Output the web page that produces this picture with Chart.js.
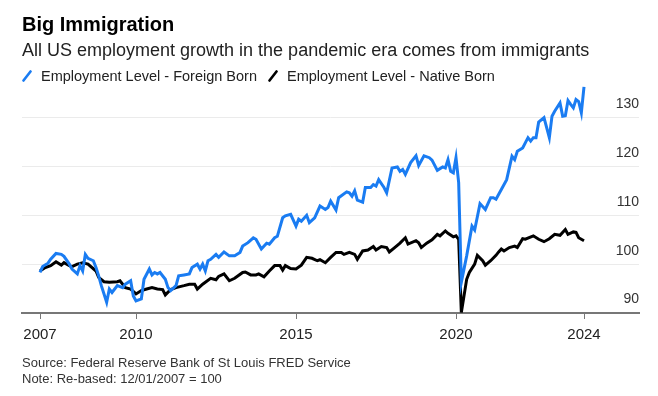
<!DOCTYPE html>
<html>
<head>
<meta charset="utf-8">
<title>Big Immigration</title>
<script src="https://cdn.jsdelivr.net/npm/chart.js@4.4.1/dist/chart.umd.min.js"></script>
<style>
  html, body { margin: 0; padding: 0; background: #fff; }
  body { width: 658px; height: 396px; position: relative; overflow: hidden;
         font-family: 'Liberation Sans', Arial, sans-serif; }
  .chart-wrap { position: absolute; left: 0; top: 0; width: 658px; height: 396px; }
  .title { position: absolute; left: 22px; top: 14px; font-size: 20px; line-height: 20px;
           font-weight: bold; color: #000; white-space: nowrap; }
  .subtitle { position: absolute; left: 22px; top: 40.5px; font-size: 18px; line-height: 18px;
              color: #222; white-space: nowrap; }
  .legend { position: absolute; left: 22px; top: 68.7px; font-size: 14.5px; line-height: 14.5px;
            color: #222; white-space: nowrap; display: flex; }
  .legend-item { display: flex; align-items: center; }
  .legend-item + .legend-item { margin-left: 11px; }
  .legend-item svg { margin-right: 9px; }
  .footer { position: absolute; left: 22px; top: 355px; font-size: 13px; line-height: 16px;
            color: #333; white-space: nowrap; }
</style>
</head>
<body>
<div class="chart-wrap"><canvas id="immigrationChart"></canvas></div>
<div class="title">Big Immigration</div>
<div class="subtitle">All US employment growth in the pandemic era comes from immigrants</div>
<div class="legend" id="legend"></div>
<div class="footer">Source: Federal Reserve Bank of St Louis FRED Service<br>Note: Re-based: 12/01/2007 = 100</div>

<script>
// ============================================
// Data (re-based, 12/01/2007 = 100)
// ============================================

const foreignDates = [
  '2007-01', '2007-02', '2007-04', '2007-05', '2007-07', '2007-09', '2007-10', '2007-12',
  '2008-01', '2008-03', '2008-04', '2008-05', '2008-06', '2008-07', '2008-09', '2008-10', '2008-11', '2008-12',
  '2009-02', '2009-03', '2009-04', '2009-06', '2009-08', '2009-09', '2009-11', '2009-12',
  '2010-01', '2010-03', '2010-04', '2010-06', '2010-07', '2010-08', '2010-09', '2010-10', '2010-12',
  '2011-01', '2011-02', '2011-04', '2011-05', '2011-07', '2011-09', '2011-10', '2011-12',
  '2012-01', '2012-02', '2012-03', '2012-04', '2012-05', '2012-07', '2012-08', '2012-10', '2012-12',
  '2013-02', '2013-04', '2013-05', '2013-07', '2013-09', '2013-10', '2013-12',
  '2014-02', '2014-03', '2014-05', '2014-06', '2014-08', '2014-09', '2014-11',
  '2015-01', '2015-02', '2015-03', '2015-05', '2015-06', '2015-08', '2015-10', '2015-12',
  '2016-01', '2016-02', '2016-04', '2016-05', '2016-08', '2016-09', '2016-10', '2016-11', '2016-12',
  '2017-02', '2017-03', '2017-05', '2017-06', '2017-07', '2017-08', '2017-10', '2017-11',
  '2018-01', '2018-03', '2018-04', '2018-05', '2018-06', '2018-08', '2018-10', '2018-11',
  '2019-01', '2019-03', '2019-04', '2019-06', '2019-08', '2019-09', '2019-10', '2019-11', '2019-12',
  '2020-01', '2020-02', '2020-03', '2020-05', '2020-07', '2020-08', '2020-10', '2020-12',
  '2021-02', '2021-03', '2021-04', '2021-06', '2021-08', '2021-10', '2021-11', '2021-12',
  '2022-02', '2022-04', '2022-05', '2022-06', '2022-07', '2022-08', '2022-10', '2022-12',
  '2023-01', '2023-02', '2023-04', '2023-05', '2023-06', '2023-07', '2023-08', '2023-09', '2023-10', '2023-11', '2023-12',
  '2024-01'
];
const foreignValues = [
  98.3, 99.5, 100.2, 101.0, 102.2, 102.0, 101.6, 100.0,
  99.0, 98.0, 99.7, 98.6, 102.0, 101.2, 100.7, 99.3, 97.6, 95.6,
  92.2, 94.9, 94.2, 95.6, 95.2, 95.9, 96.6, 93.5,
  92.5, 92.9, 96.9, 99.0, 97.8, 98.3, 98.0, 98.3, 96.9,
  95.2, 94.6, 95.6, 97.6, 97.8, 98.0, 99.3, 100.0,
  99.0, 100.0, 98.6, 100.7, 101.0, 102.0, 101.4, 102.5, 101.7,
  101.7, 102.4, 103.7, 104.4, 105.4, 105.1, 103.1,
  104.3, 104.1, 105.4, 105.7, 109.5, 109.9, 110.2,
  107.8, 109.2, 108.8, 110.0, 108.5, 109.5, 111.9, 111.2,
  111.6, 112.9, 111.1, 113.6, 114.8, 114.6, 113.9, 115.0, 113.1,
  112.7, 115.7, 115.7, 116.3, 116.0, 117.3, 115.7, 114.6,
  119.7, 119.9, 119.0, 119.4, 118.4, 120.8, 122.2, 120.2,
  122.2, 121.8, 121.3, 119.2, 119.9, 119.7, 121.4, 119.0, 118.7,
  121.8, 116.7, 96.3, 101.7, 107.8, 107.0, 112.4, 111.2,
  113.6, 113.6, 113.3, 115.3, 117.3, 122.1, 121.4, 123.1,
  123.8, 125.9, 125.2, 125.9, 125.9, 129.1, 130.0, 125.9,
  130.3, 131.3, 133.0, 130.3, 130.4, 133.5, 132.7, 132.0, 133.7, 133.3, 131.0,
  136.3
];

const nativeDates = [
  '2007-01', '2007-03', '2007-05', '2007-07', '2007-09', '2007-10', '2007-12',
  '2008-01', '2008-03', '2008-05', '2008-07', '2008-10', '2008-11',
  '2009-01', '2009-03', '2009-06', '2009-07', '2009-09', '2009-11',
  '2010-01', '2010-03', '2010-05', '2010-07', '2010-09', '2010-11', '2010-12',
  '2011-02', '2011-04', '2011-07', '2011-09', '2011-11', '2011-12',
  '2012-02', '2012-05', '2012-07', '2012-08', '2012-10', '2012-12',
  '2013-02', '2013-05', '2013-06', '2013-08', '2013-10', '2013-11',
  '2014-01', '2014-03', '2014-05', '2014-07', '2014-08', '2014-09', '2014-11',
  '2015-01', '2015-03', '2015-05', '2015-07', '2015-09', '2015-10', '2015-12',
  '2016-02', '2016-04', '2016-06', '2016-07', '2016-09', '2016-11', '2016-12',
  '2017-02', '2017-04', '2017-06', '2017-07', '2017-09', '2017-11', '2017-12',
  '2018-02', '2018-04', '2018-06', '2018-07', '2018-10', '2018-11', '2018-12',
  '2019-02', '2019-04', '2019-06', '2019-07', '2019-09', '2019-10', '2019-12',
  '2020-01', '2020-02', '2020-03', '2020-05', '2020-06', '2020-08', '2020-09', '2020-11', '2020-12',
  '2021-02', '2021-04', '2021-05', '2021-06', '2021-07', '2021-09', '2021-11', '2021-12',
  '2022-02', '2022-03', '2022-06', '2022-08', '2022-10', '2022-12',
  '2023-02', '2023-04', '2023-06', '2023-07', '2023-09', '2023-10', '2023-11',
  '2024-01'
];
const nativeValues = [
  98.6, 99.3, 99.7, 100.5, 99.8, 100.3, 99.7,
  99.5, 100.0, 100.3, 100.0, 98.6, 97.3,
  96.4, 96.3, 96.4, 96.6, 95.2, 94.9,
  93.9, 94.6, 94.9, 95.2, 94.9, 94.8, 93.7,
  94.8, 95.2, 95.6, 95.9, 95.9, 94.9,
  95.9, 97.1, 96.8, 97.5, 98.0, 96.6,
  97.1, 98.3, 98.4, 97.8, 97.8, 98.0,
  97.4, 98.6, 99.7, 99.7, 98.8, 99.7, 99.1,
  99.0, 99.8, 101.4, 101.2, 100.7, 100.9, 100.3,
  101.4, 102.4, 102.4, 102.0, 102.4, 102.0, 101.0,
  102.7, 102.9, 103.6, 102.9, 103.6, 103.4, 102.5,
  103.4, 104.3, 105.4, 104.1, 104.8, 104.4, 103.4,
  104.3, 105.0, 106.1, 105.8, 106.8, 106.3, 105.6,
  105.8, 105.1, 90.1, 96.9, 98.3, 100.0, 101.8, 100.7, 99.8,
  100.7, 101.8, 102.5, 103.1, 102.7, 103.4, 103.7, 103.4,
  105.2, 105.1, 105.8, 105.1, 104.6, 105.2,
  106.1, 105.9, 107.1, 106.1, 106.6, 106.5, 105.4,
  104.8
];

const xTickYears = [2007, 2010, 2015, 2020, 2024];
const yTickValues = [90, 100, 110, 120, 130];

// ============================================
// Helpers
// ============================================

// '2015-07' -> 2015.5
function toYear(dateStr) {
  const [y, m] = dateStr.split('-').map(Number);
  return y + (m - 1) / 12;
}

function toPoints(dates, values) {
  return dates.map((d, i) => ({ x: toYear(d), y: values[i] }));
}

function buildLegend(chart) {
  const legend = document.getElementById('legend');
  legend.innerHTML = chart.data.datasets.map(ds => `
    <div class="legend-item">
      <svg width="10" height="12" viewBox="0 0 10 12">
        <path d="M1.5 10.5L8.5 1.5" stroke="${ds.borderColor}" stroke-width="2.6" stroke-linecap="round"/>
      </svg>
      <span>${ds.label}</span>
    </div>
  `).join('');
}

// ============================================
// Chart
// ============================================

function initializeChart() {
  const ctx = document.getElementById('immigrationChart');
  Chart.defaults.font.family = "'Liberation Sans', Arial, sans-serif";

  const chart = new Chart(ctx, {
    type: 'line',
    data: {
      datasets: [
        {
          label: 'Employment Level - Foreign Born',
          data: toPoints(foreignDates, foreignValues),
          borderColor: '#1a7cf2',
          borderWidth: 3,
          pointRadius: 0,
          tension: 0,
          clip: 4
        },
        {
          label: 'Employment Level - Native Born',
          data: toPoints(nativeDates, nativeValues),
          borderColor: '#000000',
          borderWidth: 3,
          pointRadius: 0,
          tension: 0,
          clip: 4
        }
      ]
    },
    options: {
      responsive: true,
      maintainAspectRatio: false,
      animation: false,
      layout: {
        padding: { left: 22, right: 19, top: 81, bottom: 57 }
      },
      plugins: {
        legend: { display: false },
        tooltip: { enabled: false }
      },
      scales: {
        x: {
          type: 'linear',
          min: 2006.4375,
          max: 2025.71875,
          afterBuildTicks: axis => {
            axis.ticks = xTickYears.map(v => ({ value: v }));
          },
          afterFit: axis => {
            axis.height = 26;
          },
          grid: {
            drawOnChartArea: false,
            drawTicks: true,
            tickLength: 6,
            color: '#777',
            lineWidth: 1
          },
          border: {
            display: true,
            color: '#777',
            width: 2
          },
          ticks: {
            autoSkip: false,
            maxRotation: 0,
            padding: 7,
            color: '#222',
            font: { size: 15 },
            callback: value => String(value)
          }
        },
        y: {
          position: 'right',
          min: 90,
          max: 137.5,
          afterBuildTicks: axis => {
            axis.ticks = yTickValues.map(v => ({ value: v }));
          },
          grid: {
            color: '#ebebeb',
            lineWidth: 1,
            drawTicks: false
          },
          border: { display: false },
          ticks: {
            mirror: true,
            padding: 0,
            labelOffset: -13.5,
            color: '#333',
            font: { size: 14 }
          }
        }
      }
    }
  });

  buildLegend(chart);
}

document.addEventListener('DOMContentLoaded', initializeChart);
</script>
</body>
</html>
